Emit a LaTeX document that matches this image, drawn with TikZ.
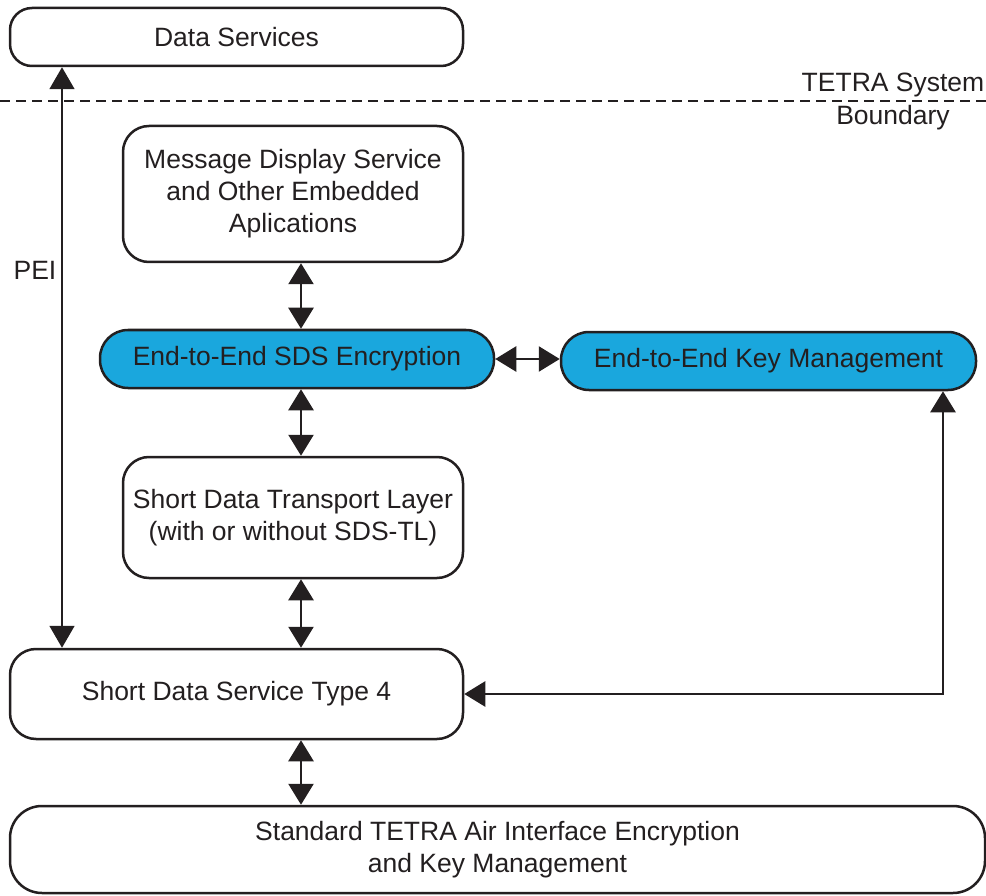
\documentclass[tikz,border=0pt]{standalone}
\usepackage{fontspec}
\setmainfont{Liberation Sans}
\usetikzlibrary{arrows.meta,calc}
\definecolor{ink}{RGB}{35,31,32}
\definecolor{e2eblue}{RGB}{26,167,221}
\tikzset{
  box/.style={draw=ink, line width=2.5pt, rounded corners=22pt, fill=white,
    align=center, text=ink, inner sep=0pt, font=\fontsize{26.5}{32}\selectfont},
  bluebox/.style={box, fill=e2eblue, rounded corners=28pt},
  link/.style={draw=ink, line width=2.5pt, {Triangle[length=21pt,width=25pt]}-{Triangle[length=21pt,width=25pt]}},
  pei/.style={draw=ink, line width=1.8pt, {Triangle[length=22pt,width=25pt]}-{Triangle[length=22pt,width=25pt]}},
  label/.style={text=ink, align=center, inner sep=0pt, font=\fontsize{26.5}{33}\selectfont}
}
\begin{document}
\begin{tikzpicture}[x=1pt,y=-1pt]
\useasboundingbox (0,0) rectangle (986,896);
% boxes
\node[box, minimum width=453pt, minimum height=58pt] (ds) at (236.5,37) {Data Services};
\node[box, minimum width=340pt, minimum height=136pt, rounded corners=26pt] (mds) at (293,194) {Message Display Service\\and Other Embedded\\Aplications};
\node[bluebox, minimum width=394pt, minimum height=58pt] (e2e) at (297,359) {End-to-End SDS Encryption};
\node[bluebox, minimum width=415pt, minimum height=58pt] (km) at (768.5,361) {End-to-End Key Management};
\node[box, minimum width=340pt, minimum height=121pt, rounded corners=26pt] (sdtl) at (293,517.5) {Short Data Transport Layer\\(with or without SDS-TL)};
\node[box, minimum width=453pt, minimum height=90pt, rounded corners=26pt] (sds4) at (236.5,694) {Short Data Service Type 4};
\node[box, minimum width=975pt, minimum height=87pt, rounded corners=32pt] (air) at (497.5,849.5) {Standard TETRA Air Interface Encryption\\and Key Management};
% boundary
\coordinate (bl) at (0,101);
\coordinate (br) at (986,101);
\draw[ink, line width=2pt, dash pattern=on 10pt off 6pt] (bl) -- (br);
\node[label] (tsb) at (893,101.5) {TETRA System\\Boundary};
\node[label, font=\fontsize{26.5}{32}\selectfont] (peil) at (35,270) {PEI};
% connector x positions
\coordinate (ax) at (301,0);
\coordinate (px) at (62,0);
\coordinate (kx) at (943,0);
% connectors
\draw[pei] (ds.south -| px) -- (sds4.north -| px);
\draw[link] (mds.south -| ax) -- (e2e.north -| ax);
\draw[link] (e2e.south -| ax) -- (sdtl.north -| ax);
\draw[link] (sdtl.south -| ax) -- (sds4.north -| ax);
\draw[link] (sds4.south -| ax) -- (air.north -| ax);
\draw[link] (e2e.east) -- (e2e.east -| km.west);
\draw[link] (km.south -| kx) |- (sds4.east);
\end{tikzpicture}
\end{document}
